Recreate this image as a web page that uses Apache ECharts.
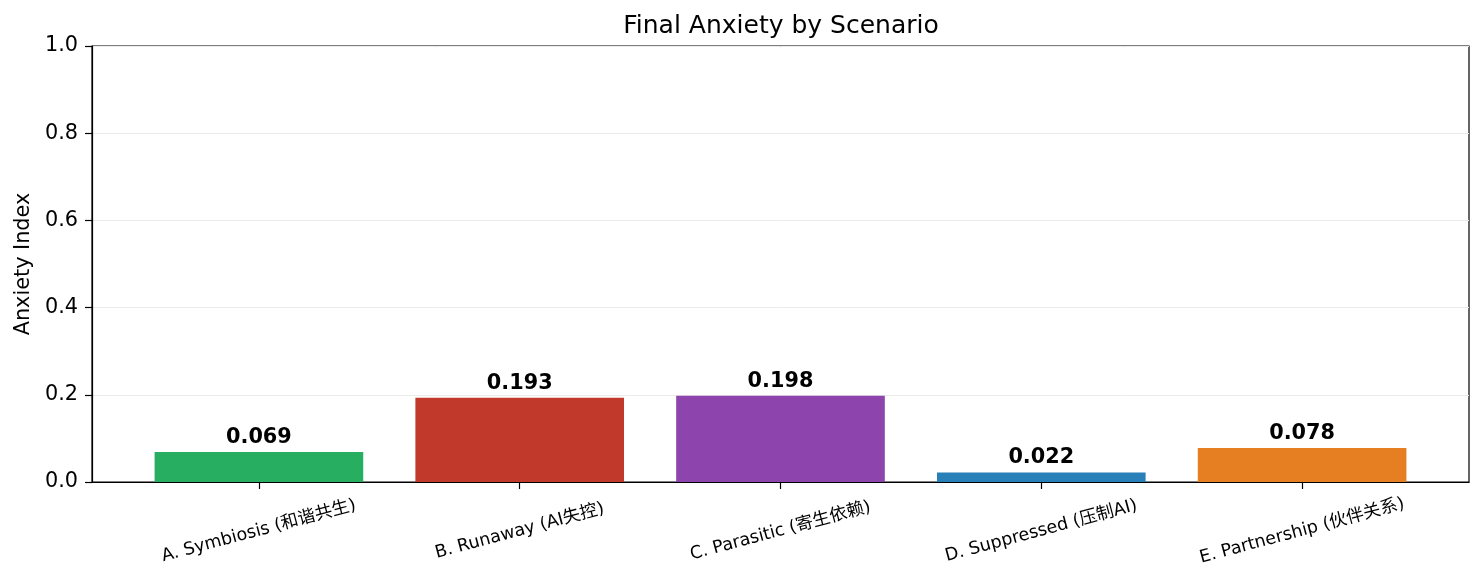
<!DOCTYPE html>
<html>
<head>
<meta charset="utf-8">
<script src="https://cdn.jsdelivr.net/npm/echarts@6/dist/echarts.min.js"></script>
<style>
    html, body { margin: 0; padding: 0; background: #fff; }
    #chart { width: 1484px; height: 583px; }
</style>
</head>
<body>
<div id="chart"></div>
<script>
    // scenario names and final anxiety values
    var categories = [
        'A. Symbiosis (和谐共生)',
        'B. Runaway (AI失控)',
        'C. Parasitic (寄生依赖)',
        'D. Suppressed (压制AI)',
        'E. Partnership (伙伴关系)'
    ];
    var anxiety = [0.069, 0.193, 0.198, 0.022, 0.078];
    var barColors = ['#27ae60', '#c0392b', '#8e44ad', '#2980b9', '#e67e22'];
    var yTicks = [0, 0.2, 0.4, 0.6, 0.8, 1.0];

    var font = "'DejaVu Sans', 'Noto Sans CJK SC', sans-serif";
    var positions = categories.map(function (c, i) { return i; });

    var option = {
        animation: false,
        textStyle: { fontFamily: font },
        title: {
            text: 'Final Anxiety by Scenario',
            left: 776,
            textAlign: 'center',
            top: 9,
            textStyle: { fontFamily: font, fontSize: 25, fontWeight: 'normal', color: '#000' }
        },
        grid: {
            left: 92,
            right: 15,
            top: 46,
            bottom: 101,
            show: true,
            borderColor: '#000',
            borderWidth: 1.2
        },
        xAxis: {
            type: 'value',
            min: -0.64,   // matplotlib style margins around the bars
            max: 4.64,
            splitLine: { show: false },
            axisLine: { onZero: false, lineStyle: { color: '#000', width: 1.2 } },
            axisTick: {
                show: true,
                customValues: positions,
                length: 7,
                lineStyle: { color: '#000', width: 1.2 }
            },
            axisLabel: {
                customValues: positions,
                rotate: 15,
                align: 'center',
                verticalAlign: 'middle',
                margin: 49,
                fontSize: 17.5,
                color: '#000',
                fontFamily: font,
                formatter: function (v) {
                    return categories[Math.round(v)];
                }
            }
        },
        yAxis: {
            type: 'value',
            min: 0,
            max: 1,
            interval: 0.2,
            name: 'Anxiety Index',
            nameLocation: 'middle',
            nameGap: 55,
            nameTextStyle: { fontSize: 20.8, color: '#000', fontFamily: font },
            axisLine: { show: true, onZero: false, lineStyle: { color: '#000', width: 1.2 } },
            axisTick: { show: true, length: 7, lineStyle: { color: '#000', width: 1.2 } },
            axisLabel: {
                fontSize: 20.8,
                color: '#000',
                margin: 14,
                fontFamily: font,
                customValues: yTicks,
                formatter: function (v) { return v.toFixed(1); }
            },
            splitLine: { show: true, lineStyle: { color: '#ebebeb', width: 1 } }
        },
        series: [{
            type: 'bar',
            barWidth: '80%',
            data: anxiety.map(function (v, i) {
                return { value: [i, v], itemStyle: { color: barColors[i] } };
            }),
            label: {
                show: true,
                position: 'top',
                distance: 4,
                fontSize: 20.8,
                fontWeight: 'bold',
                color: '#000',
                fontFamily: font,
                formatter: function (p) { return p.value[1].toFixed(3); }
            }
        }]
    };

    var chart = echarts.init(document.getElementById('chart'));
    chart.setOption(option);
</script>
</body>
</html>
